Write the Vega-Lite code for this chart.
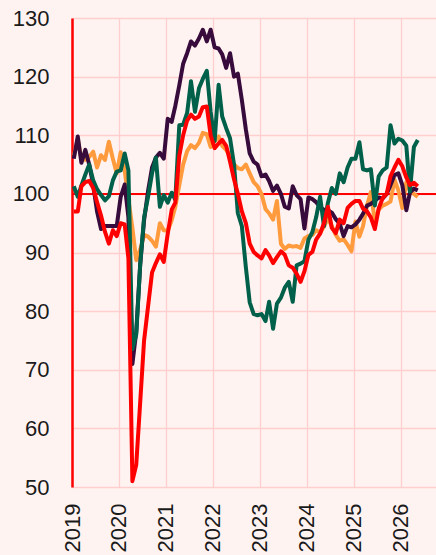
{
  "$schema": "https://vega.github.io/schema/vega-lite/v6.json",
  "width": 364,
  "height": 469,
  "autosize": {"type": "none"},
  "padding": {"left": 72, "top": 18, "right": 0, "bottom": 68},
  "background": "#fff3f1",
  "config": {
    "view": {"stroke": null},
    "axis": {"labelFont": "Liberation Sans", "labelFontSize": 22, "labelColor": "#1a1a1a", "gridColor": "#ffcfcf", "gridWidth": 1.3, "ticks": false, "title": null}
  },
  "datasets": {
    "series": [
{"d":"2019-01-15","s":"o","v":106.5},{"d":"2019-02-15","s":"o","v":109.3},{"d":"2019-03-15","s":"o","v":106},{"d":"2019-04-15","s":"o","v":105.8},{"d":"2019-05-15","s":"o","v":106.3},{"d":"2019-06-15","s":"o","v":107.2},{"d":"2019-07-15","s":"o","v":104.5},{"d":"2019-08-15","s":"o","v":106.6},{"d":"2019-09-15","s":"o","v":105.8},{"d":"2019-10-15","s":"o","v":108.9},{"d":"2019-11-15","s":"o","v":106},{"d":"2019-12-15","s":"o","v":103.5},
{"d":"2020-01-15","s":"o","v":107.1},{"d":"2020-02-15","s":"o","v":104},{"d":"2020-03-15","s":"o","v":99},{"d":"2020-04-15","s":"o","v":94.2},{"d":"2020-05-15","s":"o","v":88.7},{"d":"2020-06-15","s":"o","v":90.5},{"d":"2020-07-15","s":"o","v":93},{"d":"2020-08-15","s":"o","v":92.7},{"d":"2020-09-15","s":"o","v":92},{"d":"2020-10-15","s":"o","v":91},{"d":"2020-11-15","s":"o","v":95},{"d":"2020-12-15","s":"o","v":93.8},
{"d":"2021-01-15","s":"o","v":93.7},{"d":"2021-02-15","s":"o","v":95.5},{"d":"2021-03-15","s":"o","v":97.8},{"d":"2021-04-15","s":"o","v":101.5},{"d":"2021-05-15","s":"o","v":105},{"d":"2021-06-15","s":"o","v":107.3},{"d":"2021-07-15","s":"o","v":108.3},{"d":"2021-08-15","s":"o","v":107.8},{"d":"2021-09-15","s":"o","v":108.7},{"d":"2021-10-15","s":"o","v":110.4},{"d":"2021-11-15","s":"o","v":110.2},{"d":"2021-12-15","s":"o","v":108},
{"d":"2022-01-15","s":"o","v":109},{"d":"2022-02-15","s":"o","v":109.8},{"d":"2022-03-15","s":"o","v":108.2},{"d":"2022-04-15","s":"o","v":107.5},{"d":"2022-05-15","s":"o","v":106.5},{"d":"2022-06-15","s":"o","v":105},{"d":"2022-07-15","s":"o","v":104.4},{"d":"2022-08-15","s":"o","v":104.2},{"d":"2022-09-15","s":"o","v":105},{"d":"2022-10-15","s":"o","v":103.5},{"d":"2022-11-15","s":"o","v":102},{"d":"2022-12-15","s":"o","v":101.3},
{"d":"2023-01-15","s":"o","v":100},{"d":"2023-02-15","s":"o","v":97.4},{"d":"2023-03-15","s":"o","v":96.7},{"d":"2023-04-15","s":"o","v":95.6},{"d":"2023-05-15","s":"o","v":98.8},{"d":"2023-06-15","s":"o","v":91.5},{"d":"2023-07-15","s":"o","v":90.6},{"d":"2023-08-15","s":"o","v":91.2},{"d":"2023-09-15","s":"o","v":91},{"d":"2023-10-15","s":"o","v":91.1},{"d":"2023-11-15","s":"o","v":90.8},{"d":"2023-12-15","s":"o","v":92.4},
{"d":"2024-01-15","s":"o","v":92.8},{"d":"2024-02-15","s":"o","v":93},{"d":"2024-03-15","s":"o","v":93.8},{"d":"2024-04-15","s":"o","v":93.4},{"d":"2024-05-15","s":"o","v":94.4},{"d":"2024-06-15","s":"o","v":95.8},{"d":"2024-07-15","s":"o","v":94.5},{"d":"2024-08-15","s":"o","v":93},{"d":"2024-09-15","s":"o","v":92},{"d":"2024-10-15","s":"o","v":92.3},{"d":"2024-11-15","s":"o","v":91.3},{"d":"2024-12-15","s":"o","v":90.2},
{"d":"2025-01-15","s":"o","v":95.3},{"d":"2025-02-15","s":"o","v":92.7},{"d":"2025-03-15","s":"o","v":94.5},{"d":"2025-04-15","s":"o","v":98},{"d":"2025-05-15","s":"o","v":100.3},{"d":"2025-06-15","s":"o","v":95.3},{"d":"2025-07-15","s":"o","v":97.3},{"d":"2025-08-15","s":"o","v":98},{"d":"2025-09-15","s":"o","v":98.3},{"d":"2025-10-15","s":"o","v":98.7},{"d":"2025-11-15","s":"o","v":102.4},{"d":"2025-12-15","s":"o","v":100.6},
{"d":"2026-01-15","s":"o","v":97.6},{"d":"2026-02-15","s":"o","v":102},{"d":"2026-03-15","s":"o","v":100.5},{"d":"2026-04-15","s":"o","v":100},{"d":"2026-05-15","s":"o","v":99.5},

{"d":"2019-01-15","s":"p","v":106},{"d":"2019-02-15","s":"p","v":109.8},{"d":"2019-03-15","s":"p","v":105.3},{"d":"2019-04-15","s":"p","v":107.5},{"d":"2019-05-15","s":"p","v":105},{"d":"2019-06-15","s":"p","v":101.5},{"d":"2019-07-15","s":"p","v":97},{"d":"2019-08-15","s":"p","v":94},{"d":"2019-09-15","s":"p","v":94.5},{"d":"2019-10-15","s":"p","v":94.5},{"d":"2019-11-15","s":"p","v":94.5},{"d":"2019-12-15","s":"p","v":94.5},
{"d":"2020-01-15","s":"p","v":99.5},{"d":"2020-02-15","s":"p","v":101.6},{"d":"2020-03-15","s":"p","v":96},{"d":"2020-04-15","s":"p","v":71},{"d":"2020-05-15","s":"p","v":76.5},{"d":"2020-06-15","s":"p","v":88},{"d":"2020-07-15","s":"p","v":95.5},{"d":"2020-08-15","s":"p","v":100.5},{"d":"2020-09-15","s":"p","v":104.5},{"d":"2020-10-15","s":"p","v":106.2},{"d":"2020-11-15","s":"p","v":107},{"d":"2020-12-15","s":"p","v":106},
{"d":"2021-01-15","s":"p","v":112.8},{"d":"2021-02-15","s":"p","v":112.3},{"d":"2021-03-15","s":"p","v":115},{"d":"2021-04-15","s":"p","v":118.5},{"d":"2021-05-15","s":"p","v":122.2},{"d":"2021-06-15","s":"p","v":124},{"d":"2021-07-15","s":"p","v":126},{"d":"2021-08-15","s":"p","v":125.3},{"d":"2021-09-15","s":"p","v":126.5},{"d":"2021-10-15","s":"p","v":128},{"d":"2021-11-15","s":"p","v":126},{"d":"2021-12-15","s":"p","v":128},
{"d":"2022-01-15","s":"p","v":125},{"d":"2022-02-15","s":"p","v":124.8},{"d":"2022-03-15","s":"p","v":123.8},{"d":"2022-04-15","s":"p","v":121.5},{"d":"2022-05-15","s":"p","v":124},{"d":"2022-06-15","s":"p","v":120},{"d":"2022-07-15","s":"p","v":120.5},{"d":"2022-08-15","s":"p","v":116},{"d":"2022-09-15","s":"p","v":111},{"d":"2022-10-15","s":"p","v":106.9},{"d":"2022-11-15","s":"p","v":105.5},{"d":"2022-12-15","s":"p","v":105},
{"d":"2023-01-15","s":"p","v":103},{"d":"2023-02-15","s":"p","v":103.3},{"d":"2023-03-15","s":"p","v":102.2},{"d":"2023-04-15","s":"p","v":100.5},{"d":"2023-05-15","s":"p","v":101.4},{"d":"2023-06-15","s":"p","v":100},{"d":"2023-07-15","s":"p","v":97.8},{"d":"2023-08-15","s":"p","v":97.5},{"d":"2023-09-15","s":"p","v":101.3},{"d":"2023-10-15","s":"p","v":99.8},{"d":"2023-11-15","s":"p","v":99.1},{"d":"2023-12-15","s":"p","v":94.1},
{"d":"2024-01-15","s":"p","v":99.4},{"d":"2024-02-15","s":"p","v":99.1},{"d":"2024-03-15","s":"p","v":98.6},{"d":"2024-04-15","s":"p","v":97.7},{"d":"2024-05-15","s":"p","v":97.3},{"d":"2024-06-15","s":"p","v":97.2},{"d":"2024-07-15","s":"p","v":96.8},{"d":"2024-08-15","s":"p","v":95.7},{"d":"2024-09-15","s":"p","v":94.9},{"d":"2024-10-15","s":"p","v":92.8},{"d":"2024-11-15","s":"p","v":94.5},{"d":"2024-12-15","s":"p","v":94.3},
{"d":"2025-01-15","s":"p","v":94.8},{"d":"2025-02-15","s":"p","v":95.6},{"d":"2025-03-15","s":"p","v":96.6},{"d":"2025-04-15","s":"p","v":98},{"d":"2025-05-15","s":"p","v":98.3},{"d":"2025-06-15","s":"p","v":98.8},{"d":"2025-07-15","s":"p","v":99.4},{"d":"2025-08-15","s":"p","v":99.2},{"d":"2025-09-15","s":"p","v":100},{"d":"2025-10-15","s":"p","v":101.5},{"d":"2025-11-15","s":"p","v":103.2},{"d":"2025-12-15","s":"p","v":103.5},
{"d":"2026-01-15","s":"p","v":101.5},{"d":"2026-02-15","s":"p","v":97.2},{"d":"2026-03-15","s":"p","v":100.2},{"d":"2026-04-15","s":"p","v":100.9},{"d":"2026-05-15","s":"p","v":100.6},

{"d":"2019-01-15","s":"g","v":101.3},{"d":"2019-02-15","s":"g","v":99.5},{"d":"2019-03-15","s":"g","v":101.4},{"d":"2019-04-15","s":"g","v":103.3},{"d":"2019-05-15","s":"g","v":105},{"d":"2019-06-15","s":"g","v":102.3},{"d":"2019-07-15","s":"g","v":100.8},{"d":"2019-08-15","s":"g","v":99.8},{"d":"2019-09-15","s":"g","v":98.9},{"d":"2019-10-15","s":"g","v":99.6},{"d":"2019-11-15","s":"g","v":102.3},{"d":"2019-12-15","s":"g","v":103.8},
{"d":"2020-01-15","s":"g","v":104},{"d":"2020-02-15","s":"g","v":106.9},{"d":"2020-03-15","s":"g","v":104},{"d":"2020-04-15","s":"g","v":73.5},{"d":"2020-05-15","s":"g","v":76},{"d":"2020-06-15","s":"g","v":88},{"d":"2020-07-15","s":"g","v":96},{"d":"2020-08-15","s":"g","v":99.5},{"d":"2020-09-15","s":"g","v":103.5},{"d":"2020-10-15","s":"g","v":106.2},{"d":"2020-11-15","s":"g","v":97.8},{"d":"2020-12-15","s":"g","v":99.8},
{"d":"2021-01-15","s":"g","v":98.5},{"d":"2021-02-15","s":"g","v":100.2},{"d":"2021-03-15","s":"g","v":99},{"d":"2021-04-15","s":"g","v":111.7},{"d":"2021-05-15","s":"g","v":111.8},{"d":"2021-06-15","s":"g","v":113.8},{"d":"2021-07-15","s":"g","v":119.2},{"d":"2021-08-15","s":"g","v":114},{"d":"2021-09-15","s":"g","v":118},{"d":"2021-10-15","s":"g","v":119.6},{"d":"2021-11-15","s":"g","v":121},{"d":"2021-12-15","s":"g","v":114},
{"d":"2022-01-15","s":"g","v":109},{"d":"2022-02-15","s":"g","v":118.6},{"d":"2022-03-15","s":"g","v":113.2},{"d":"2022-04-15","s":"g","v":111.2},{"d":"2022-05-15","s":"g","v":109.5},{"d":"2022-06-15","s":"g","v":105},{"d":"2022-07-15","s":"g","v":96.7},{"d":"2022-08-15","s":"g","v":94.5},{"d":"2022-09-15","s":"g","v":87.5},{"d":"2022-10-15","s":"g","v":81.5},{"d":"2022-11-15","s":"g","v":79.5},{"d":"2022-12-15","s":"g","v":79.3},
{"d":"2023-01-15","s":"g","v":79.5},{"d":"2023-02-15","s":"g","v":78.3},{"d":"2023-03-15","s":"g","v":81.6},{"d":"2023-04-15","s":"g","v":77},{"d":"2023-05-15","s":"g","v":81.3},{"d":"2023-06-15","s":"g","v":82.3},{"d":"2023-07-15","s":"g","v":84},{"d":"2023-08-15","s":"g","v":85},{"d":"2023-09-15","s":"g","v":81.6},{"d":"2023-10-15","s":"g","v":87.8},{"d":"2023-11-15","s":"g","v":88.1},{"d":"2023-12-15","s":"g","v":88.5},
{"d":"2024-01-15","s":"g","v":92.2},{"d":"2024-02-15","s":"g","v":93.5},{"d":"2024-03-15","s":"g","v":96},{"d":"2024-04-15","s":"g","v":99.5},{"d":"2024-05-15","s":"g","v":94.5},{"d":"2024-06-15","s":"g","v":98.5},{"d":"2024-07-15","s":"g","v":101},{"d":"2024-08-15","s":"g","v":100},{"d":"2024-09-15","s":"g","v":103.5},{"d":"2024-10-15","s":"g","v":102},{"d":"2024-11-15","s":"g","v":104.5},{"d":"2024-12-15","s":"g","v":106},
{"d":"2025-01-15","s":"g","v":106},{"d":"2025-02-15","s":"g","v":108.8},{"d":"2025-03-15","s":"g","v":104.2},{"d":"2025-04-15","s":"g","v":104},{"d":"2025-05-15","s":"g","v":104.2},{"d":"2025-06-15","s":"g","v":98},{"d":"2025-07-15","s":"g","v":103},{"d":"2025-08-15","s":"g","v":104},{"d":"2025-09-15","s":"g","v":104.5},{"d":"2025-10-15","s":"g","v":111.7},{"d":"2025-11-15","s":"g","v":108.6},{"d":"2025-12-15","s":"g","v":109.4},
{"d":"2026-01-15","s":"g","v":109.1},{"d":"2026-02-15","s":"g","v":108.2},{"d":"2026-03-15","s":"g","v":100.4},{"d":"2026-04-15","s":"g","v":108},{"d":"2026-05-15","s":"g","v":109.2},

{"d":"2019-01-15","s":"r","v":97},{"d":"2019-02-15","s":"r","v":97},{"d":"2019-03-15","s":"r","v":101.3},{"d":"2019-04-15","s":"r","v":102},{"d":"2019-05-15","s":"r","v":102.2},{"d":"2019-06-15","s":"r","v":101},{"d":"2019-07-15","s":"r","v":98.6},{"d":"2019-08-15","s":"r","v":96.3},{"d":"2019-09-15","s":"r","v":93.5},{"d":"2019-10-15","s":"r","v":91.5},{"d":"2019-11-15","s":"r","v":93.8},{"d":"2019-12-15","s":"r","v":92.8},
{"d":"2020-01-15","s":"r","v":95},{"d":"2020-02-15","s":"r","v":94.8},{"d":"2020-03-15","s":"r","v":89},{"d":"2020-04-15","s":"r","v":51},{"d":"2020-05-15","s":"r","v":53.8},{"d":"2020-06-15","s":"r","v":64.5},{"d":"2020-07-15","s":"r","v":75},{"d":"2020-08-15","s":"r","v":80.8},{"d":"2020-09-15","s":"r","v":86.6},{"d":"2020-10-15","s":"r","v":88.2},{"d":"2020-11-15","s":"r","v":89.7},{"d":"2020-12-15","s":"r","v":88.4},
{"d":"2021-01-15","s":"r","v":93.2},{"d":"2021-02-15","s":"r","v":97.3},{"d":"2021-03-15","s":"r","v":98.5},{"d":"2021-04-15","s":"r","v":106.5},{"d":"2021-05-15","s":"r","v":110},{"d":"2021-06-15","s":"r","v":112.5},{"d":"2021-07-15","s":"r","v":113.5},{"d":"2021-08-15","s":"r","v":112.8},{"d":"2021-09-15","s":"r","v":113.2},{"d":"2021-10-15","s":"r","v":114.8},{"d":"2021-11-15","s":"r","v":114.9},{"d":"2021-12-15","s":"r","v":110},
{"d":"2022-01-15","s":"r","v":107.8},{"d":"2022-02-15","s":"r","v":108.6},{"d":"2022-03-15","s":"r","v":109.2},{"d":"2022-04-15","s":"r","v":108.2},{"d":"2022-05-15","s":"r","v":105.5},{"d":"2022-06-15","s":"r","v":102.5},{"d":"2022-07-15","s":"r","v":100},{"d":"2022-08-15","s":"r","v":97},{"d":"2022-09-15","s":"r","v":95},{"d":"2022-10-15","s":"r","v":91.5},{"d":"2022-11-15","s":"r","v":90.1},{"d":"2022-12-15","s":"r","v":89.5},
{"d":"2023-01-15","s":"r","v":89},{"d":"2023-02-15","s":"r","v":90.4},{"d":"2023-03-15","s":"r","v":89.5},{"d":"2023-04-15","s":"r","v":88.2},{"d":"2023-05-15","s":"r","v":89.2},{"d":"2023-06-15","s":"r","v":90.2},{"d":"2023-07-15","s":"r","v":89.6},{"d":"2023-08-15","s":"r","v":87.8},{"d":"2023-09-15","s":"r","v":87.4},{"d":"2023-10-15","s":"r","v":86.4},{"d":"2023-11-15","s":"r","v":85},{"d":"2023-12-15","s":"r","v":86.8},
{"d":"2024-01-15","s":"r","v":89.6},{"d":"2024-02-15","s":"r","v":90.1},{"d":"2024-03-15","s":"r","v":92.2},{"d":"2024-04-15","s":"r","v":93.2},{"d":"2024-05-15","s":"r","v":95},{"d":"2024-06-15","s":"r","v":97.8},{"d":"2024-07-15","s":"r","v":94.2},{"d":"2024-08-15","s":"r","v":93.3},{"d":"2024-09-15","s":"r","v":95.6},{"d":"2024-10-15","s":"r","v":95},{"d":"2024-11-15","s":"r","v":97.6},{"d":"2024-12-15","s":"r","v":98.3},
{"d":"2025-01-15","s":"r","v":98.8},{"d":"2025-02-15","s":"r","v":98.8},{"d":"2025-03-15","s":"r","v":97.5},{"d":"2025-04-15","s":"r","v":97},{"d":"2025-05-15","s":"r","v":96},{"d":"2025-06-15","s":"r","v":94},{"d":"2025-07-15","s":"r","v":97.5},{"d":"2025-08-15","s":"r","v":99.3},{"d":"2025-09-15","s":"r","v":100},{"d":"2025-10-15","s":"r","v":103},{"d":"2025-11-15","s":"r","v":104.5},{"d":"2025-12-15","s":"r","v":105.8},
{"d":"2026-01-15","s":"r","v":104.7},{"d":"2026-02-15","s":"r","v":102.8},{"d":"2026-03-15","s":"r","v":101.5},{"d":"2026-04-15","s":"r","v":101.9},{"d":"2026-05-15","s":"r","v":101.3}
    ],
    "ref": [{"v": 100}]
  },
  "layer": [
    {
      "data": {"name": "ref"},
      "mark": {"type": "rule", "color": "#ff0000", "strokeWidth": 2},
      "encoding": {"y": {"field": "v", "type": "quantitative", "scale": {"domain": [50, 130], "nice": false, "zero": false}}}
    },
    {
      "data": {"name": "series"},
      "mark": {"type": "line", "strokeWidth": 4, "strokeJoin": "round", "clip": true},
      "encoding": {
        "x": {
          "field": "d", "type": "temporal",
          "scale": {"domain": [{"year": 2019, "month": 1, "date": 1}, {"year": 2026, "month": 10, "date": 4}], "nice": false},
          "axis": {"format": "%Y", "tickCount": "year", "labelAngle": -90, "labelPadding": 16, "domain": false, "grid": true}
        },
        "y": {
          "field": "v", "type": "quantitative",
          "scale": {"domain": [50, 130], "nice": false, "zero": false},
          "axis": {"values": [50, 60, 70, 80, 90, 100, 110, 120, 130], "labelPadding": 23, "domain": true, "domainColor": "#ff0000", "domainWidth": 2.5, "grid": true}
        },
        "color": {
          "field": "s", "type": "nominal", "legend": null,
          "scale": {"domain": ["o", "p", "g", "r"], "range": ["#ff9b3d", "#370b3c", "#00604a", "#ff0000"]}
        }
      }
    }
  ]
}
